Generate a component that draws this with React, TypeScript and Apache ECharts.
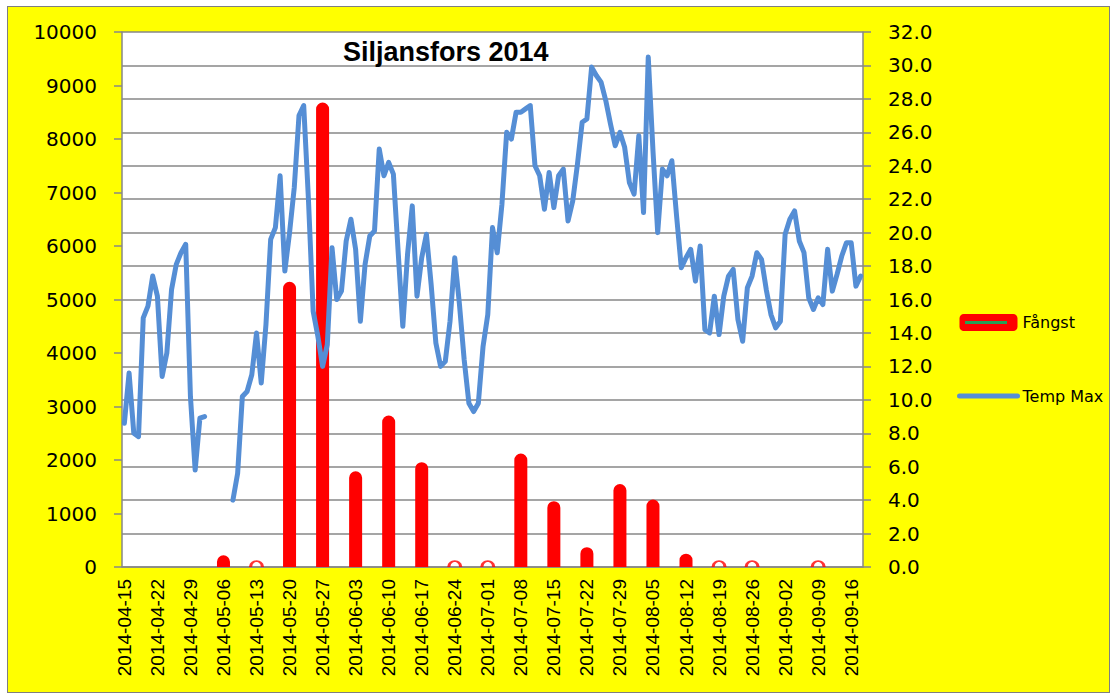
import React, { useEffect, useRef } from "react";
import * as echarts from "echarts";

// Daily categories 2014-04-15 .. 2014-09-18
const START = Date.UTC(2014, 3, 15);
const DAY_COUNT = 157;
const dates: string[] = [];
for (let i = 0; i < DAY_COUNT; i++) {
  dates.push(new Date(START + i * 86400000).toISOString().slice(0, 10));
}

// Temp Max (°C), one value per day, null = missing
const tempMax: (number | null)[] = [
  8.6, 11.6, 8.0, 7.8, 14.9, 15.6, 17.4, 16.2, 11.4, 12.8,
  16.6, 18.1, 18.8, 19.3, 10.2, 5.8, 8.9, 9.0, null, null,
  null, null, null, 4.0, 5.6, 10.2, 10.5, 11.5, 14.0, 11.0,
  14.5, 19.6, 20.3, 23.4, 17.7, 20.0, 22.7, 27.0, 27.6, 22.0,
  15.3, 13.8, 12.0, 13.3, 19.1, 16.0, 16.5, 19.5, 20.8, 19.0,
  14.7, 18.1, 19.8, 20.1, 25.0, 23.4, 24.2, 23.5, 18.9, 14.4,
  18.7, 21.6, 16.2, 18.5, 19.9, 16.9, 13.4, 12.0, 12.3, 14.7,
  18.5, 15.7, 12.4, 9.8, 9.3, 9.8, 13.2, 15.1, 20.3, 18.8,
  21.7, 26.0, 25.6, 27.2, 27.2, 27.4, 27.6, 24.0, 23.4, 21.4,
  23.6, 21.5, 23.4, 23.8, 20.7, 21.9, 24.1, 26.6, 26.8, 29.9,
  29.4, 29.0, 27.9, 26.5, 25.2, 26.0, 25.1, 23.0, 22.3, 25.8,
  21.2, 30.5, 24.9, 20.0, 23.8, 23.4, 24.3, 21.0, 17.9, 18.5,
  19.0, 17.1, 19.2, 14.2, 14.0, 16.2, 13.9, 16.2, 17.4, 17.8,
  14.8, 13.5, 16.7, 17.4, 18.8, 18.4, 16.6, 15.1, 14.3, 14.7,
  19.9, 20.8, 21.3, 19.5, 18.8, 16.1, 15.4, 16.1, 15.7, 19.0,
  16.5, 17.5, 18.6, 19.4, 19.4, 16.8, 17.4,
];

// Weekly catch (Fångst)
const catchDates = [
  "2014-05-06", "2014-05-13", "2014-05-20", "2014-05-27", "2014-06-03",
  "2014-06-10", "2014-06-17", "2014-06-24", "2014-07-01", "2014-07-08",
  "2014-07-15", "2014-07-22", "2014-07-29", "2014-08-05", "2014-08-12",
  "2014-08-19", "2014-08-26", "2014-09-09",
];
const catchValues = [
  220, 0, 5330, 8680, 1790,
  2830, 1960, 0, 0, 2120,
  1230, 370, 1550, 1260, 250,
  0, 0, 0,
];

const leftTicks = { min: 0, max: 10000, interval: 1000 };
const rightTicks = { min: 0, max: 32, interval: 2 };

const GRAY = "#878787";
const BLUE = "#558ed5";

export default function App() {
  const ref = useRef<HTMLDivElement>(null);

  useEffect(() => {
    if (!ref.current) return;
    const chart = echarts.init(ref.current, undefined, { renderer: "svg" });

    const barData = catchDates.map((d, i) => [d, catchValues[i]]).filter((p) => (p[1] as number) > 0);
    const zeroData = catchDates.map((d, i) => [d, catchValues[i]]).filter((p) => p[1] === 0);

    chart.setOption({
      animation: false,
      backgroundColor: "#ffff00",
      title: {
        text: "Siljansfors 2014",
        left: 335,
        top: 31,
        padding: 0,
        textStyle: { fontFamily: "Liberation Sans", fontWeight: "bold", fontSize: 27, color: "#000" },
      },
      legend: {
        orient: "vertical",
        left: 949,
        top: 307,
        itemWidth: 58,
        itemHeight: 17,
        itemGap: 57,
        padding: 0,
        textStyle: { fontFamily: "DejaVu Sans", fontSize: 16, color: "#000" },
        data: [
          { name: "Fångst", icon: "roundRect" },
          { name: "Temp Max", itemStyle: { opacity: 0 }, lineStyle: { width: 5, color: BLUE, cap: "round" } },
        ],
      },
      grid: {
        left: 114,
        top: 25,
        width: 741,
        height: 535,
        show: true,
        backgroundColor: "#ffffff",
        borderWidth: 0,
      },
      xAxis: {
        type: "category",
        data: dates,
        boundaryGap: true,
        axisLine: { lineStyle: { color: GRAY, width: 1.5 } },
        axisTick: { interval: 6, length: 7, lineStyle: { color: GRAY, width: 1.5 } },
        axisLabel: {
          interval: 6,
          rotate: 90,
          margin: 12,
          fontFamily: "Liberation Sans",
          fontSize: 19,
          color: "#000",
        },
        splitLine: { show: false },
      },
      yAxis: [
        {
          type: "value",
          position: "left",
          ...leftTicks,
          axisLine: { show: true, lineStyle: { color: GRAY, width: 1.5 } },
          axisTick: { show: true, length: 8, lineStyle: { color: GRAY, width: 1.5 } },
          axisLabel: {
            margin: 25,
            fontFamily: "DejaVu Sans",
            fontSize: 20,
            color: "#000",
            formatter: (v: number) => String(v),
          },
          splitLine: { show: false },
        },
        {
          type: "value",
          position: "right",
          ...rightTicks,
          axisLine: { show: true, lineStyle: { color: GRAY, width: 1.5 } },
          axisTick: { show: true, length: 8, lineStyle: { color: GRAY, width: 1.5 } },
          axisLabel: {
            margin: 25,
            fontFamily: "DejaVu Sans",
            fontSize: 20,
            color: "#000",
            formatter: (v: number) => v.toFixed(1),
          },
          splitLine: { show: true, lineStyle: { color: GRAY, width: 1.5 } },
        },
      ],
      series: [
        {
          name: "Fångst",
          type: "bar",
          yAxisIndex: 0,
          data: barData,
          barWidth: 13,
          itemStyle: { color: "#ff0000", borderRadius: [7, 7, 0, 0] },
          z: 2,
        },
        {
          name: "Fångst0",
          type: "scatter",
          yAxisIndex: 0,
          data: zeroData,
          symbol: "path://M0,6 L0.8,3 L2.5,1.2 L4,0.4 L6,0 L8,0.4 L9.5,1.2 L11.2,3 L12,6",
          symbolSize: [12, 6],
          symbolOffset: [0, -3],
          itemStyle: { color: "rgba(0,0,0,0)", borderColor: "#ff0000", borderWidth: 2.2 },
          z: 2,
        },
        {
          name: "Temp Max",
          type: "line",
          yAxisIndex: 1,
          data: tempMax,
          symbol: "none",
          connectNulls: false,
          lineStyle: { color: BLUE, width: 5, join: "round", cap: "round" },
          itemStyle: { color: BLUE },
          z: 3,
        },
      ],
      graphic: [
        {
          type: "line",
          shape: { x1: 957, y1: 315.5, x2: 999, y2: 315.5 },
          style: { stroke: "#27a055", lineWidth: 3 },
          z: 100,
        },
      ],
    });

    return () => chart.dispose();
  }, []);

  return (
    <div
      style={{
        position: "absolute",
        left: 7,
        top: 6,
        border: "1px solid #7f7f7f",
        width: 1101,
        height: 685,
        background: "#ffff00",
      }}
    >
      <div ref={ref} style={{ width: 1101, height: 685 }} />
    </div>
  );
}
